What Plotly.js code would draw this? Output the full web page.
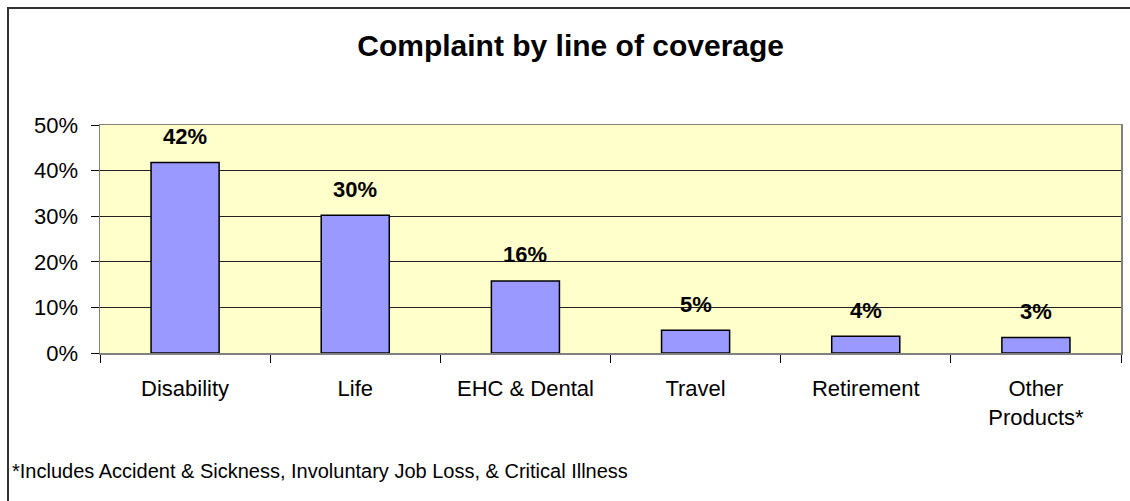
<!DOCTYPE html>
<html>
<head>
<meta charset="utf-8">
<script src="https://cdn.plot.ly/plotly-3.0.1.min.js"></script>
<style>html,body{margin:0;padding:0;background:#fff;}#chart{width:1130px;height:501px;}</style>
</head>
<body>
<div id="chart"></div>
<script>
var categories = ["Disability", "Life", "EHC & Dental", "Travel", "Retirement", "Other<br>Products*"];
var shares = [0.418, 0.302, 0.158, 0.050, 0.037, 0.034];
var shareLabels = ["42%", "30%", "16%", "5%", "4%", "3%"];
var yTickVals = [0, 0.1, 0.2, 0.3, 0.4, 0.5];
var yTickText = ["0%", "10%", "20%", "30%", "40%", "50%"];
var titleText = "Complaint by line of coverage";
var footnote = "*Includes Accident &amp; Sickness, Involuntary Job Loss, &amp; Critical Illness";

var FONT = "'Liberation Sans', Arial, sans-serif";

var trace = {
  type: "bar",
  x: categories,
  y: shares,
  marker: {color: "#9999FF", line: {color: "#000000", width: 1.5}},
  hoverinfo: "skip"
};

var annotations = categories.map(function(c, i) {
  return {
    x: c, y: shares[i], xref: "x", yref: "y",
    text: "<b>" + shareLabels[i] + "</b>",
    showarrow: false, yanchor: "middle", yshift: 26,
    font: {family: FONT, size: 22, color: "#000"}
  };
});
annotations.push({
  x: -0.088, y: -0.5175, xref: "paper", yref: "paper",
  xanchor: "left", yanchor: "middle", showarrow: false,
  text: footnote,
  font: {family: FONT, size: 20, color: "#000"}
});

var layout = {
  width: 1130, height: 501,
  margin: {l: 100, r: 9, t: 125, b: 148},
  paper_bgcolor: "#ffffff",
  plot_bgcolor: "#FFFFCC",
  showlegend: false,
  bargap: 0.6,
  title: {
    text: "<b>" + titleText + "</b>",
    x: 0.505, xref: "container", xanchor: "center",
    y: 1 - 45 / 501, yref: "container", yanchor: "middle",
    font: {family: FONT, size: 30, color: "#000"}
  },
  xaxis: {
    type: "category",
    tickson: "boundaries",
    ticks: "outside", ticklen: 8, tickcolor: "#000", tickwidth: 1,
    showline: true, linecolor: "#808080", linewidth: 1.5, mirror: true,
    showgrid: false,
    tickfont: {family: FONT, size: 22, color: "#000"},
    ticklabelstandoff: 15
  },
  yaxis: {
    range: [0, 0.5],
    tickvals: yTickVals, ticktext: yTickText,
    ticks: "outside", ticklen: 8, tickcolor: "#000", tickwidth: 1,
    showline: true, linecolor: "#808080", linewidth: 1.5, mirror: true,
    showgrid: true, gridcolor: "#222222", gridwidth: 1,
    zeroline: false,
    tickfont: {family: FONT, size: 22, color: "#000"},
    ticklabelstandoff: 8
  },
  shapes: [{
    type: "rect", xref: "paper", yref: "paper",
    x0: (8 - 100) / 1021, x1: (1140 - 100) / 1021,
    y0: (353 - 510) / 228, y1: (353 - 8) / 228,
    line: {color: "#333333", width: 2}, fillcolor: "rgba(0,0,0,0)", layer: "below"
  }],
  annotations: annotations
};

Plotly.newPlot("chart", [trace], layout, {displayModeBar: false, staticPlot: true});
</script>
</body>
</html>
